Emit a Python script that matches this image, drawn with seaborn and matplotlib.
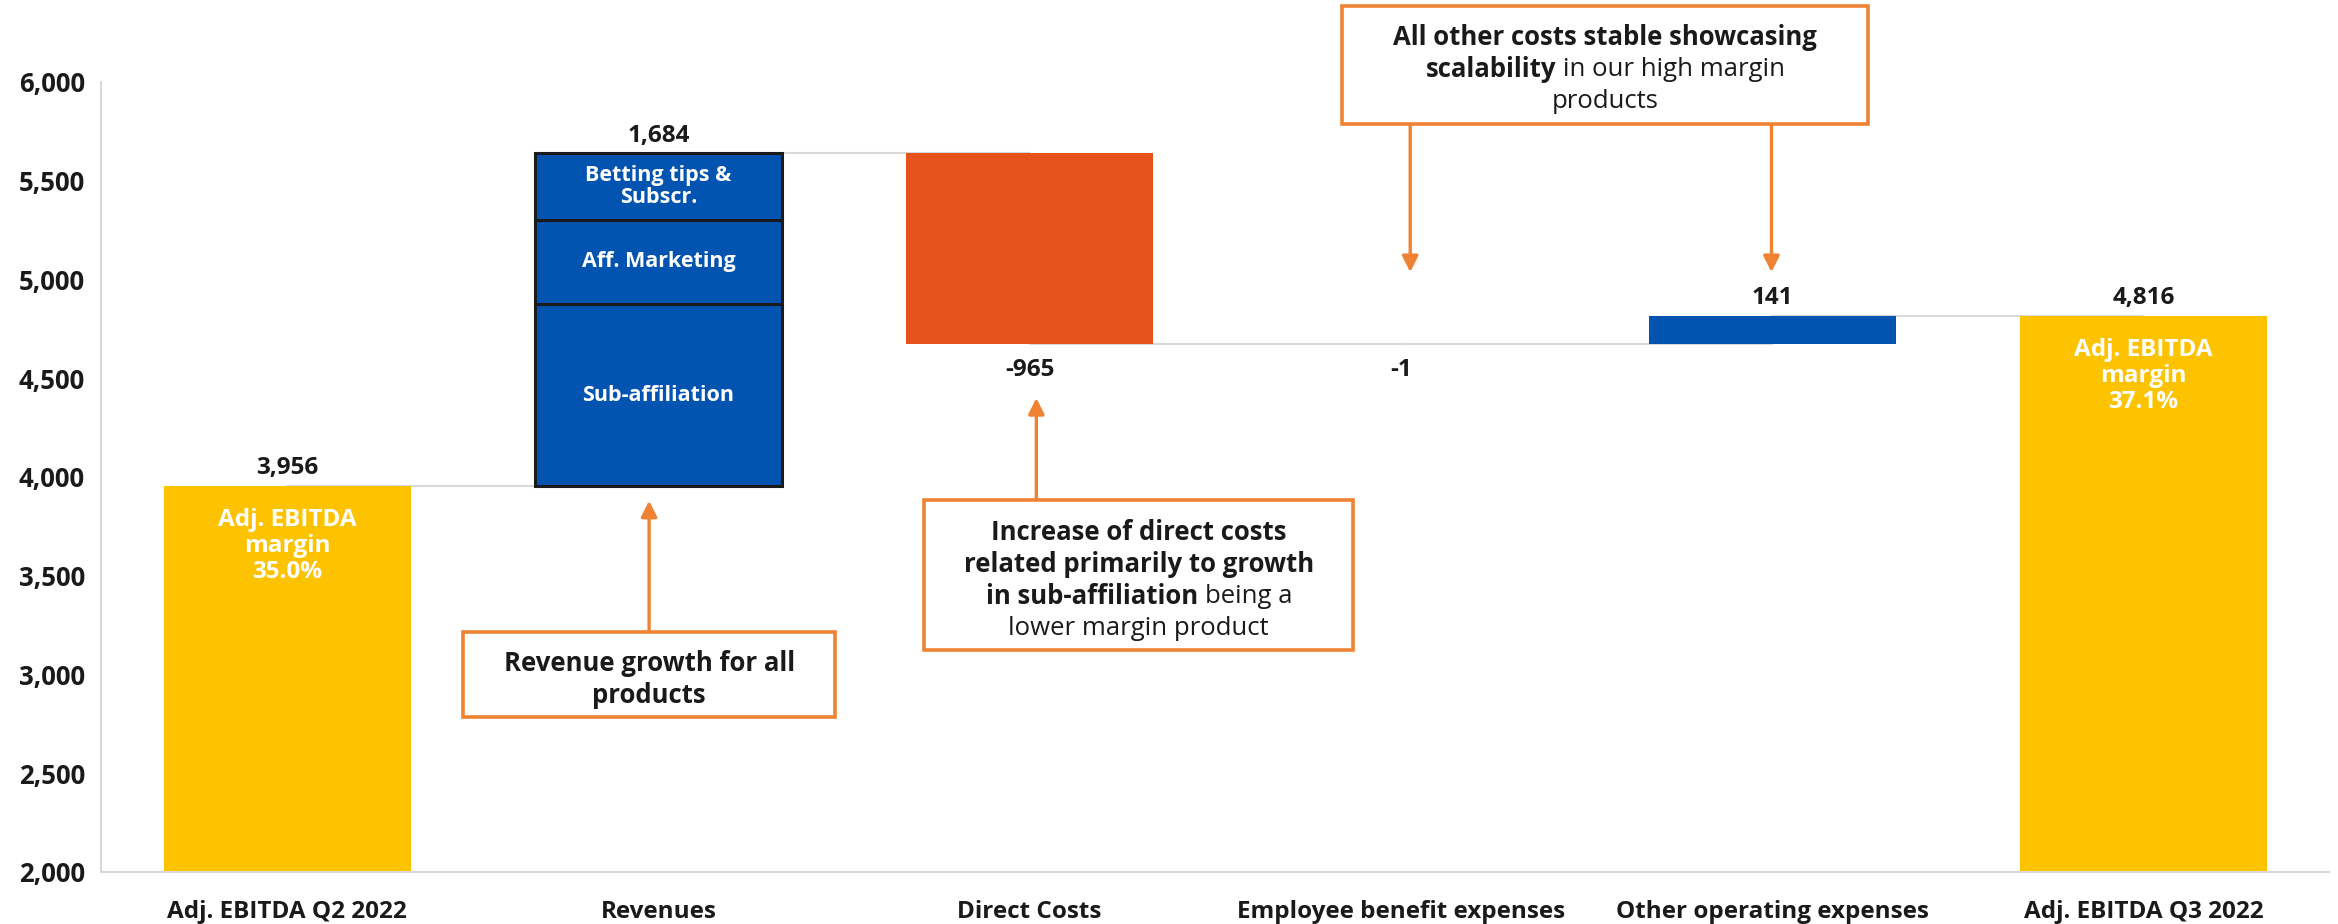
import matplotlib
matplotlib.use("Agg")
import matplotlib.pyplot as plt
import matplotlib.transforms as mtransforms
from matplotlib.patches import Rectangle
import pandas as pd
import seaborn as sns

CATEGORIES = [
    "Adj. EBITDA Q2 2022",
    "Revenues",
    "Direct Costs",
    "Employee benefit expenses",
    "Other operating expenses",
    "Adj. EBITDA Q3 2022",
]
STEP_VALUES = [3956, 1684, -965, -1, 141, 4816]
STEP_KIND = ["total", "delta", "delta", "delta", "delta", "total"]
VALUE_LABELS = ["3,956", "1,684", "-965", "-1", "141", "4,816"]
BAR_COLORS = ["#FDC300", "#0354B1", "#E5521C", "#D9D9D9", "#0354B1", "#FDC300"]

REVENUE_SEGMENTS = ["Sub-affiliation", "Aff. Marketing", "Betting tips &\nSubscr."]
REVENUE_SEGMENT_VALUES = [918, 429, 337]

MARGIN_LABELS = {0: "Adj. EBITDA\nmargin\n35.0%", 5: "Adj. EBITDA\nmargin\n37.1%"}
Y_TICKS = [2000, 2500, 3000, 3500, 4000, 4500, 5000, 5500, 6000]

# callout boxes: (x0, x1, y_bottom, y_top) in data units, text lines as (text, bold) pieces
NOTES = [
    {
        "box": (0.474, 1.476, 2783, 3214),
        "lines": [[("Revenue growth for all", True)], [("products", True)]],
        "arrows": [(0.975, 3214, 3880)],
    },
    {
        "box": (1.716, 2.872, 3123, 3882),
        "lines": [
            [("Increase of direct costs", True)],
            [("related primarily to growth", True)],
            [("in sub-affiliation", True), ("being a", False)],
            [("lower margin product", False)],
        ],
        "arrows": [(2.018, 3882, 4400)],
    },
    {
        "box": (2.842, 4.259, 5787, 6385),
        "lines": [
            [("All other costs stable showcasing", True)],
            [("scalability", True), ("in our high margin", False)],
            [("products", False)],
        ],
        "arrows": [(3.025, 5787, 5037), (3.998, 5787, 5037)],
    },
]

FONT = "Open Sans"
DARK = "#1A1A1A"
ORANGE = "#F08233"
GRID_GREY = "#D9D9D9"


def waterfall_frame() -> pd.DataFrame:
    bottoms, heights, levels = [], [], []
    running = 0
    for value, kind in zip(STEP_VALUES, STEP_KIND):
        if kind == "total":
            bottoms.append(0)
            heights.append(value)
            running = value
        else:
            bottoms.append(running + min(value, 0))
            heights.append(abs(value))
            running += value
        levels.append(running)
    return pd.DataFrame(
        {"category": CATEGORIES, "bottom": bottoms, "height": heights, "level": levels,
         "value": STEP_VALUES, "label": VALUE_LABELS}
    )


def draw_note(ax, renderer, note, size=18.5, line_px=32):
    x0, x1, yb, yt = note["box"]
    ax.add_patch(Rectangle((x0, yb), x1 - x0, yt - yb, facecolor="white", edgecolor=ORANGE,
                           linewidth=2.6, clip_on=False, zorder=6))
    for ax_x, y_from, y_to in note["arrows"]:
        ax.annotate("", xy=(ax_x, y_to), xytext=(ax_x, y_from), annotation_clip=False, zorder=5,
                    arrowprops=dict(arrowstyle="-|>", color=ORANGE, lw=2.4, mutation_scale=24,
                                    shrinkA=0, shrinkB=0))
    (px0, py0) = ax.transData.transform((x0, yb))
    (px1, py1) = ax.transData.transform((x1, yt))
    cx, cy = (px0 + px1) / 2, (py0 + py1) / 2
    ident = mtransforms.IdentityTransform()
    n = len(note["lines"])
    gap = size * 100 / 72 * 0.27
    for i, parts in enumerate(note["lines"]):
        ly = cy + (n - 1) / 2 * line_px - i * line_px - 2
        texts, widths = [], []
        for s, bold in parts:
            t = ax.text(0, ly, s, transform=ident, fontsize=size, family=FONT, color=DARK,
                        fontweight="bold" if bold else "normal", ha="left", va="center_baseline",
                        zorder=7, clip_on=False)
            texts.append(t)
            widths.append(t.get_window_extent(renderer).width)
        total = sum(widths) + gap * (len(parts) - 1)
        x = cx - total / 2
        for t, w in zip(texts, widths):
            t.set_x(x)
            x += w + gap


def main() -> None:
    sns.set_theme(style="white")
    plt.rcParams["font.family"] = [FONT, "DejaVu Sans"]
    df = waterfall_frame()

    fig = plt.figure(figsize=(23.38, 9.24), dpi=100)
    ax = fig.add_axes([0.0434, 0.0563, 0.9528, 0.855])

    sns.barplot(data=df, x="category", y="height", hue="category", order=CATEGORIES,
                palette=dict(zip(CATEGORIES, BAR_COLORS)), saturation=1, width=0.665,
                errorbar=None, legend=False, linewidth=0, ax=ax, zorder=2)
    bottom_by_pos = dict(enumerate(df["bottom"]))
    for patch in list(ax.patches):
        pos = int(round(patch.get_x() + patch.get_width() / 2))
        patch.set_y(bottom_by_pos[pos])

    # revenue split into stacked product segments
    rev_bottom = df.loc[df["category"] == "Revenues", "bottom"].iloc[0]
    seg_bottoms = [rev_bottom + sum(REVENUE_SEGMENT_VALUES[:i]) for i in range(len(REVENUE_SEGMENT_VALUES))]
    seg = pd.DataFrame({"category": "Revenues", "segment": REVENUE_SEGMENTS,
                        "height": REVENUE_SEGMENT_VALUES, "bottom": seg_bottoms})
    n_before = len(ax.patches)
    sns.barplot(data=seg, x="category", y="height", hue="segment", order=CATEGORIES, dodge=False,
                palette=["#0354B1"] * 3, saturation=1, width=0.665, errorbar=None, legend=False,
                edgecolor=DARK, linewidth=2.2, ax=ax, zorder=3)
    bottom_by_height = dict(zip(seg["height"], seg["bottom"]))
    for patch in ax.patches[n_before:]:
        patch.set_y(bottom_by_height[int(round(patch.get_height()))])
    for name, h, b in zip(seg["segment"], seg["height"], seg["bottom"]):
        ax.text(1, b + h / 2, name, ha="center", va="center", color="white", fontsize=15.5,
                fontweight="bold", linespacing=1.05, zorder=4)

    # connectors between steps
    for i in range(len(df) - 1):
        ax.plot([i, i + 1], [df["level"][i]] * 2, color=GRID_GREY, lw=1.5, zorder=1)

    # value labels
    for i, row in df.iterrows():
        if row["value"] < 0:
            ax.annotate(row["label"], (i, row["bottom"]), xytext=(0, -10), textcoords="offset points",
                        ha="center", va="top", fontsize=17.5, fontweight="bold", color=DARK)
        else:
            ax.annotate(row["label"], (i, row["bottom"] + row["height"]), xytext=(0, 4),
                        textcoords="offset points", ha="center", va="bottom", fontsize=17.5,
                        fontweight="bold", color=DARK)

    for i, text in MARGIN_LABELS.items():
        ax.annotate(text, (i, df["height"][i]), xytext=(0, -16), textcoords="offset points",
                    ha="center", va="top", fontsize=17.5, fontweight="bold", color="white",
                    linespacing=1.12, zorder=4)

    ax.set_xlim(-0.5, 5.5)
    ax.set_ylim(2000, 6000)
    ax.set_yticks(Y_TICKS)
    ax.set_yticklabels([f"{v:,}" for v in Y_TICKS])
    ax.set_xlabel("")
    ax.set_ylabel("")
    ax.tick_params(axis="both", length=0, labelcolor=DARK)
    ax.tick_params(axis="x", pad=20, labelsize=17.5)
    ax.tick_params(axis="y", pad=12, labelsize=18.5)
    for lab in ax.get_xticklabels() + ax.get_yticklabels():
        lab.set_fontweight("bold")
    sns.despine(ax=ax)
    for side in ("left", "bottom"):
        ax.spines[side].set_color(GRID_GREY)
        ax.spines[side].set_linewidth(1.5)

    renderer = fig.canvas.get_renderer()
    for note in NOTES:
        draw_note(ax, renderer, note)

    fig.savefig("out.png", dpi=100, facecolor="white")
    plt.close(fig)


if __name__ == "__main__":
    main()
